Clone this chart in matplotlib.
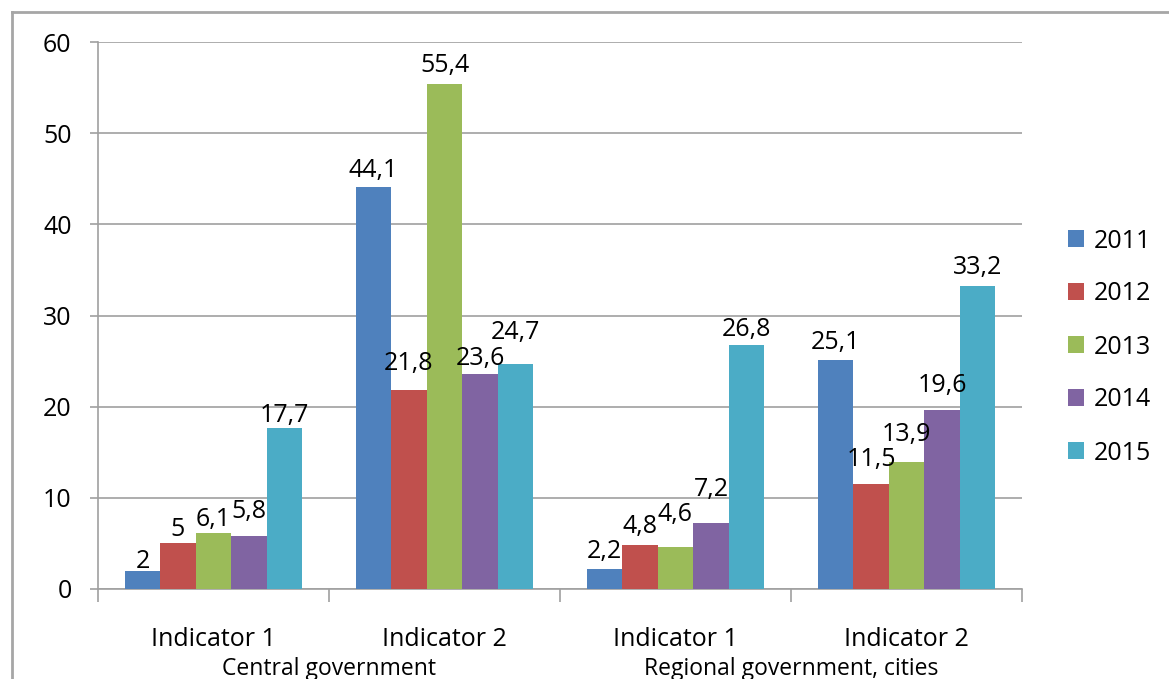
import numpy as np
import matplotlib
matplotlib.use('Agg')
import matplotlib.pyplot as plt
from matplotlib import rcParams
from matplotlib.lines import Line2D

rcParams['font.family'] = ['Open Sans', 'DejaVu Sans']
rcParams['font.size'] = 18

# data
indicators = ['Indicator 1', 'Indicator 2', 'Indicator 1', 'Indicator 2']
groups = ['Central government', 'Regional government, cities']
years = ['2011', '2012', '2013', '2014', '2015']
v2011 = [2.0, 44.1, 2.2, 25.1]
v2012 = [5.0, 21.8, 4.8, 11.5]
v2013 = [6.1, 55.4, 4.6, 13.9]
v2014 = [5.8, 23.6, 7.2, 19.6]
v2015 = [17.7, 24.7, 26.8, 33.2]
series = [v2011, v2012, v2013, v2014, v2015]
colors = ['#4F81BD', '#C0504D', '#9BBB59', '#8064A2', '#4BACC6']

# gap (px) between bar top and label baseline, as placed in the original
label_gap = [[3, 10, 11, 11],
             [7, 20, 12, 18],
             [7, 12, 26, 21],
             [18, 9, 27, 18],
             [6, 25, 9, 12]]

W, H = 1169, 679
fig = plt.figure(figsize=(W / 100, H / 100), dpi=100)
ax = fig.add_axes([98 / W, 1 - 589 / H, (1022 - 98) / W, (589 - 42) / H])

x = np.arange(len(indicators))
bw = 0.1537
grid_c = '#A0A0A0'

for i, (vals, c) in enumerate(zip(series, colors)):
    pos = x + (i - 2) * bw
    ax.bar(pos, vals, width=bw, color=c, label=years[i], zorder=3)
    for p, v, g in zip(pos, vals, label_gap[i]):
        txt = ('%g' % v).replace('.', ',')
        ax.annotate(txt, (p, v), xytext=(0, g * 0.72), textcoords='offset points',
                    ha='center', va='baseline', zorder=4)

ax.set_xlim(-0.5, 3.5)
ax.set_ylim(0, 60)
ax.set_yticks(np.arange(0, 61, 10))
ax.yaxis.grid(True, color=grid_c, lw=1.2, zorder=0)
ax.tick_params(axis='y', length=6, width=1.2, color=grid_c, pad=13)

ax.set_xticks(np.arange(-0.5, 3.6, 1))
ax.set_xticklabels([])
ax.tick_params(axis='x', length=9, width=1.2, color=grid_c)

for s in ['top', 'right']:
    ax.spines[s].set_visible(False)
for s in ['left', 'bottom']:
    ax.spines[s].set_color(grid_c)
    ax.spines[s].set_linewidth(1.2)

# category labels
for xi, lab in zip(x, indicators):
    ax.annotate(lab, (xi, 0), xycoords=('data', 'axes fraction'),
                xytext=(0, -41), textcoords='offset points',
                ha='center', va='baseline')
for gi, g in enumerate(groups):
    ax.annotate(g, (gi * 2 + 0.5, 0), xycoords=('data', 'axes fraction'),
                xytext=(0, -62), textcoords='offset points',
                ha='center', va='baseline', fontsize=16.5)

leg = fig.legend(loc='center left', bbox_to_anchor=(1068 / W, 1 - 347 / H),
                 bbox_transform=fig.transFigure, frameon=False,
                 handlelength=0.64, handleheight=0.64, handletextpad=0.4,
                 labelspacing=1.12, borderpad=0, borderaxespad=0)

# outer chart frame
fig.add_artist(Line2D([12 / W, 12 / W], [0, 1 - 12 / H], transform=fig.transFigure,
                      color='#A6A6A6', lw=2))
fig.add_artist(Line2D([12 / W, 1], [1 - 12 / H, 1 - 12 / H], transform=fig.transFigure,
                      color='#A6A6A6', lw=2))

fig.savefig('out.png', dpi=100)
